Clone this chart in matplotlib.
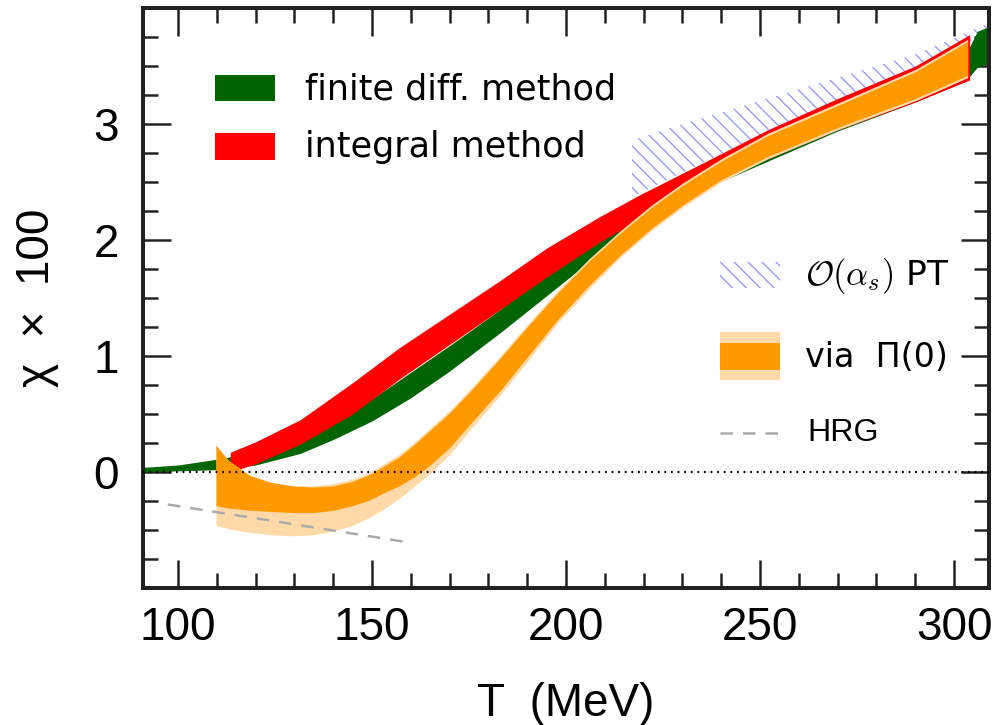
import matplotlib
matplotlib.use('Agg')
import matplotlib.pyplot as plt
from matplotlib.patches import Rectangle
from matplotlib.lines import Line2D
from matplotlib.ticker import MultipleLocator

DPI = 125
def px(p):
    return p * 72.0 / DPI

def fs(pt150):
    # font size expressed relative to a 150 dpi layout
    return pt150 * 150.0 / DPI

# ---------------- data ----------------
# finite difference method (green band)
T_fd = [91, 100, 110, 120, 131.5, 140, 150, 160, 170, 183, 198, 213.7, 230, 252, 270, 290, 303, 306, 309]
fd_lo = [0.00, 0.01, 0.02, 0.06, 0.16, 0.28, 0.44, 0.64, 0.87, 1.20, 1.60, 2.02, 2.36, 2.68, 2.94, 3.19, 3.37, 3.49, 3.52]
fd_hi = [0.04, 0.06, 0.11, 0.17, 0.26, 0.43, 0.63, 0.86, 1.09, 1.40, 1.78, 2.15, 2.50, 2.80, 3.10, 3.40, 3.60, 3.80, 3.84]

# integral method (red band)
T_int = [113.5, 120, 131.5, 145, 157, 170, 183, 195, 208.6, 219, 235, 252, 270, 290, 304]
int_lo = [0.00, 0.07, 0.24, 0.50, 0.80, 1.10, 1.40, 1.68, 1.98, 2.18, 2.44, 2.70, 2.95, 3.19, 3.38]
int_hi = [0.17, 0.26, 0.45, 0.77, 1.07, 1.36, 1.65, 1.93, 2.20, 2.39, 2.66, 2.95, 3.22, 3.50, 3.77]

# via Pi(0) (orange bands: inner dark, outer light)
T_pi = [109.8, 113, 118.5, 124, 129.6, 135, 140, 145, 149.5, 153, 157, 161, 165, 170, 176,
        183, 190, 198, 206, 214, 222, 230, 240, 252, 270, 290, 303.5]
pi_hi_outer = [0.23, 0.10, -0.03, -0.09, -0.12, -0.12, -0.10, -0.06, 0.00, 0.07, 0.15, 0.26, 0.38, 0.53, 0.74,
               1.00, 1.27, 1.57, 1.84, 2.08, 2.30, 2.49, 2.70, 2.92, 3.18, 3.47, 3.73]
pi_hi_inner = [0.23, 0.10, -0.03, -0.09, -0.12, -0.13, -0.12, -0.08, -0.02, 0.05, 0.13, 0.24, 0.36, 0.51, 0.72,
               0.98, 1.25, 1.55, 1.82, 2.06, 2.28, 2.47, 2.68, 2.90, 3.16, 3.45, 3.71]
pi_lo_inner = [-0.29, -0.31, -0.33, -0.34, -0.35, -0.35, -0.33, -0.29, -0.24, -0.18, -0.12, -0.04, 0.06, 0.21, 0.44,
               0.70, 0.99, 1.32, 1.61, 1.87, 2.10, 2.30, 2.52, 2.72, 2.97, 3.22, 3.42]
pi_lo_outer = [-0.46, -0.49, -0.52, -0.54, -0.55, -0.54, -0.51, -0.46, -0.39, -0.32, -0.23, -0.12, -0.01, 0.15, 0.39,
               0.66, 0.95, 1.29, 1.58, 1.85, 2.08, 2.28, 2.50, 2.70, 2.95, 3.20, 3.40]

# O(alpha_s) perturbation theory (hatched band)
T_pt = [217, 230, 250, 270, 290, 309]
pt_lo = [2.37, 2.58, 2.90, 3.18, 3.47, 3.80]
pt_hi = [2.86, 3.00, 3.20, 3.40, 3.60, 3.87]

# hadron resonance gas
T_hrg = [97.4, 125, 160]
hrg = [-0.28, -0.425, -0.61]

x_ticks = [100, 150, 200, 250, 300]
y_ticks = [0, 1, 2, 3]

# ---------------- style ----------------
GREEN = '#006400'
RED = '#ff0000'
ORANGE = '#ff9900'
LIGHT_ORANGE = '#ffdaa8'
HATCH = '#9595ff'

plt.rcParams['font.family'] = ['Liberation Sans', 'DejaVu Sans']
plt.rcParams['hatch.linewidth'] = px(1.3)

fig = plt.figure(figsize=(998 / DPI, 725 / DPI), dpi=DPI)
ax = fig.add_axes([143 / 998, 1 - 588 / 725, (989 - 143) / 998, (588 - 8) / 725])

HP = '\\\\\\'
ax.fill_between(T_pt, pt_lo, pt_hi, facecolor='none', edgecolor=HATCH,
                hatch=HP, linewidth=0, zorder=1)
ax.fill_between(T_fd, fd_lo, fd_hi, color=GREEN, linewidth=0, zorder=2)
ax.fill_between(T_int, int_lo, int_hi, color=RED, linewidth=0, zorder=3)
ax.fill_between(T_pi, pi_lo_outer, pi_hi_outer, color=LIGHT_ORANGE, linewidth=0, zorder=4)
ax.fill_between(T_pi, pi_lo_inner, pi_hi_inner, color=ORANGE, linewidth=0, zorder=5)
ax.plot(T_hrg, hrg, color='#aaaaaa', lw=px(2.5), dashes=(5, 4), zorder=6)
ax.axhline(0, color='black', lw=px(2.2), ls=(0, (0.8, 2.2)), zorder=7)

ax.set_xlim(91, 309)
ax.set_ylim(-1, 4)
ax.set_xticks(x_ticks)
ax.set_yticks(y_ticks)
ax.xaxis.set_minor_locator(MultipleLocator(10))
ax.yaxis.set_minor_locator(MultipleLocator(0.25))
ax.tick_params(which='both', direction='in', top=True, right=True,
               width=px(2.5), color='#222222')
ax.tick_params(which='major', length=px(28), labelsize=fs(22))
ax.tick_params(which='minor', length=px(15))
ax.tick_params(axis='x', which='major', pad=px(18))
ax.tick_params(axis='y', which='major', pad=px(24))
for s in ax.spines.values():
    s.set_linewidth(px(4))
    s.set_color('#222222')

ax.set_xlabel('T  (MeV)', fontsize=fs(22), labelpad=px(32))
ax.set_ylabel('χ  ×  100', fontsize=fs(22), labelpad=px(34))

# ---------------- legends ----------------
def axx(x):
    return (x - 143) / 846.0
def axy(y):
    return (588 - y) / 580.0

tr = ax.transAxes
ax.add_patch(Rectangle((axx(215), axy(101)), axx(275) - axx(215), axy(75) - axy(101),
                       transform=tr, color=GREEN, lw=0, zorder=10))
ax.add_patch(Rectangle((axx(215), axy(160)), axx(275) - axx(215), axy(133) - axy(160),
                       transform=tr, color=RED, lw=0, zorder=10))
ax.text(axx(305), axy(100), 'finite diff. method', transform=tr, fontsize=fs(16.8),
        family='DejaVu Sans', va='baseline', ha='left', zorder=11)
ax.text(axx(305), axy(157), 'integral method', transform=tr, fontsize=fs(16.8),
        family='DejaVu Sans', va='baseline', ha='left', zorder=11)

ax.add_patch(Rectangle((axx(720), axy(288)), axx(780) - axx(720), axy(262) - axy(288),
                       transform=tr, facecolor='none', edgecolor=HATCH, hatch=HP,
                       lw=0, zorder=10))
ax.text(axx(805), axy(285), r'$\mathcal{O}(\alpha_s)$ PT', transform=tr, fontsize=fs(16.5),
        family='DejaVu Sans', math_fontfamily='cm', va='baseline', ha='left', zorder=11)

ax.add_patch(Rectangle((axx(720), axy(380)), axx(780) - axx(720), axy(332) - axy(380),
                       transform=tr, color=LIGHT_ORANGE, lw=0, zorder=10))
ax.add_patch(Rectangle((axx(720), axy(370)), axx(780) - axx(720), axy(343) - axy(370),
                       transform=tr, color=ORANGE, lw=0, zorder=10))
ax.text(axx(805), axy(367), 'via  Π(0)', transform=tr, fontsize=fs(16),
        family='DejaVu Sans', va='baseline', ha='left', zorder=11)

ax.add_line(Line2D([axx(720), axx(782)], [axy(433), axy(433)], transform=tr,
                   color='#aaaaaa', lw=px(2.5), dashes=(5, 4), zorder=10))
ax.text(axx(807), axy(441), 'HRG', transform=tr, fontsize=fs(15.5),
        va='baseline', ha='left', zorder=11)

fig.savefig('out.png', dpi=DPI)
